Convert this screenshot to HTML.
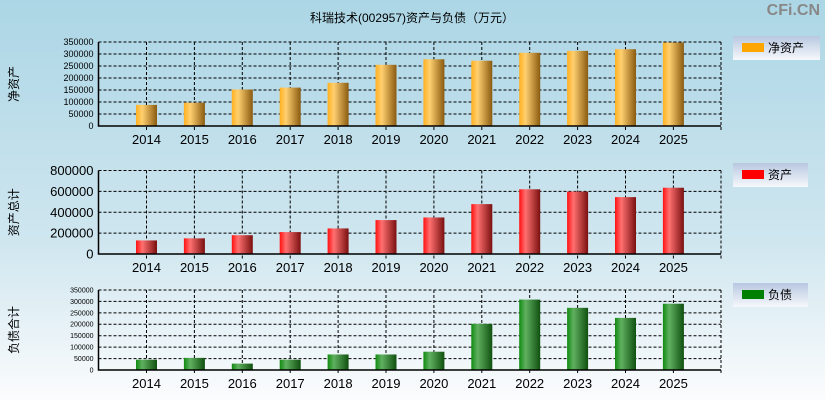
<!DOCTYPE html>
<html><head><meta charset="utf-8">
<style>
html,body{margin:0;padding:0;}
body{width:825px;height:400px;overflow:hidden;background:linear-gradient(#acd6e6 0%,#cfe6ef 60%,#fbfcfd 100%);font-family:"Liberation Sans","Noto Sans CJK SC",sans-serif;}
svg{display:block;}
</style></head>
<body>
<svg id="c" width="825" height="400" xmlns="http://www.w3.org/2000/svg">
<defs>
<linearGradient id="gO" x1="0" x2="1"><stop offset="0" stop-color="#ffb020"/><stop offset="0.3" stop-color="#ffd070"/><stop offset="1" stop-color="#8a5a10"/></linearGradient>
<linearGradient id="gR" x1="0" x2="1"><stop offset="0" stop-color="#ff1010"/><stop offset="0.3" stop-color="#ff7070"/><stop offset="1" stop-color="#7a1010"/></linearGradient>
<linearGradient id="gG" x1="0" x2="1"><stop offset="0" stop-color="#108a10"/><stop offset="0.3" stop-color="#60b060"/><stop offset="1" stop-color="#105010"/></linearGradient>
<linearGradient id="gL" x1="0" x2="0" y1="0" y2="1"><stop offset="0" stop-color="#b8c8e0"/><stop offset="1" stop-color="#f6f8fc"/></linearGradient>
</defs>
<text x="412" y="22" text-anchor="middle" font-size="12" fill="#000">科瑞技术(002957)资产与负债（万元）</text>
<text x="820" y="15" text-anchor="end" font-size="16" font-weight="bold" fill="#888">CFi.CN</text>
</svg>
<script>
const years=["2014","2015","2016","2017","2018","2019","2020","2021","2022","2023","2024","2025"];
const netAssets=[88000,97000,152000,160000,180000,255000,278000,272000,305000,313000,320000,348000];
const totalAssets=[130000,150000,180000,210000,245000,325000,350000,478000,620000,598000,545000,635000];
const liabilities=[45000,53000,28000,45000,68000,68000,80000,202000,308000,272000,228000,290000];
const ticks1=[0,50000,100000,150000,200000,250000,300000,350000];
const ticks2=[0,200000,400000,600000,800000];
const ticks3=[0,50000,100000,150000,200000,250000,300000,350000];

const svg=document.getElementById('c');
const NS="http://www.w3.org/2000/svg";
function mk(t,a,p){const e=document.createElementNS(NS,t);for(const k in a)e.setAttribute(k,a[k]);(p||svg).appendChild(e);return e;}
const L=98.5,R=721,x0=146.5,dx=47.9;
function xs(i){return x0+i*dx;}
const panels=[
 {vals:netAssets,ticks:ticks1,max:350000,top:42,bot:126,fs:9,fill:"url(#gO)",lc:"#ffa500",ylab:"净资产",leg:"净资产",ly:36,lw:87,key:"net-assets"},
 {vals:totalAssets,ticks:ticks2,max:800000,top:170.5,bot:254,fs:13,fill:"url(#gR)",lc:"#ff0000",ylab:"资产总计",leg:"资产",ly:163,lw:75,key:"total-assets"},
 {vals:liabilities,ticks:ticks3,max:350000,top:290,bot:370,fs:7,fill:"url(#gG)",lc:"#008000",ylab:"负债合计",leg:"负债",ly:283,lw:75,key:"liabilities"}
];
panels.forEach(p=>{
 const g=mk('g',{});
 
 
 const ys=v=>p.bot-(v/p.max)*(p.bot-p.top);
 p.ticks.forEach(t=>{
  const y=ys(t);
  if(t>0){const gl=mk('line',{x1:L,x2:R,y1:y,y2:y,stroke:"#000","stroke-dasharray":"3,2","stroke-width":1},g);
   }
  const tl=mk('text',{x:L-5,y:y+p.fs*0.35,"text-anchor":"end","font-size":p.fs,fill:"#000"},g);
  tl.textContent=t;
  
 });
 years.forEach((yr,i)=>{
  const x=xs(i);
  const vl=mk('line',{x1:x,x2:x,y1:p.top,y2:p.bot+5,stroke:"#000","stroke-dasharray":"3,2","stroke-width":1},g);
  
  const xl=mk('text',{x:x,y:p.bot+18,"text-anchor":"middle","font-size":13,fill:"#000"},g);
  xl.textContent=yr;
  
 });
 const rl=mk('line',{x1:R,x2:R,y1:p.top,y2:p.bot+5,stroke:"#000","stroke-dasharray":"3,2"},g);
 
 p.vals.forEach((v,i)=>{
  const y=ys(v);
  const b=mk('rect',{x:xs(i)-10.5,y:y,width:21,height:p.bot-y,fill:p.fill},g);
  
 });
 const ax=mk('path',{d:`M${L} ${p.top}V${p.bot}H${R}`,stroke:"#000","stroke-width":1.5,fill:"none"},g);
 
 const cy=(p.top+p.bot)/2;
 const yt=mk('text',{x:0,y:0,"text-anchor":"middle","font-size":12,fill:"#000",transform:`translate(18 ${cy}) rotate(-90)`},g);
 yt.textContent=p.ylab;
 
 const lg=mk('g',{},g);
 
 mk('rect',{x:733,y:p.ly,width:p.lw,height:24,fill:"url(#gL)"},lg);
 mk('rect',{x:742,y:p.ly+7,width:22,height:9,fill:p.lc},lg);
 const lt=mk('text',{x:768,y:p.ly+16,"font-size":12,fill:"#000"},lg);
 lt.textContent=p.leg;
});
</script>
</body></html>
